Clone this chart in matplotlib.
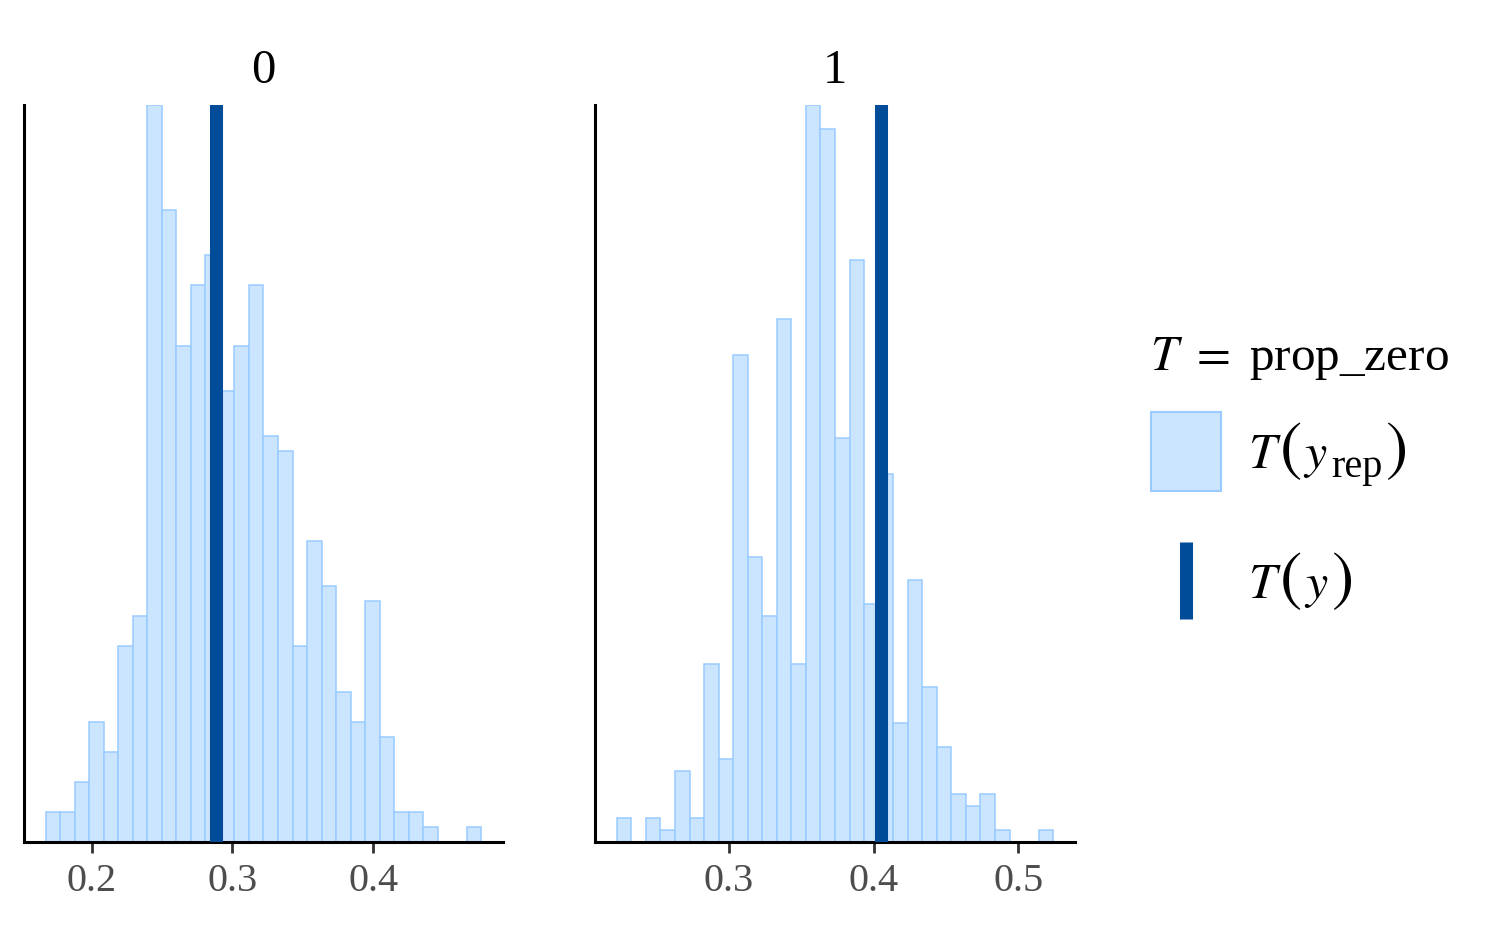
import numpy as np
import matplotlib
matplotlib.use("Agg")
import matplotlib.pyplot as plt
from matplotlib.patches import Rectangle
from matplotlib.lines import Line2D

plt.rcParams['font.family'] = ['Liberation Serif', 'DejaVu Serif']
plt.rcParams['mathtext.fontset'] = 'stix'

# facet labels
facets = ["0", "1"]

# histogram bin extents (30 bins) and counts per facet
bin_lo = [0.1675, 0.2226]
bin_hi = [0.4765, 0.5241]
counts_0 = [2, 2, 4, 8, 6, 13, 15, 49, 42, 33, 37, 39, 30, 33, 37,
            27, 26, 13, 20, 17, 10, 8, 16, 7, 2, 2, 1, 0, 0, 1]
counts_1 = [2, 0, 2, 1, 6, 2, 15, 7, 41, 24, 19, 44, 15, 62, 60,
            34, 49, 20, 31, 10, 22, 13, 8, 4, 3, 4, 1, 0, 0, 1]
counts = [counts_0, counts_1]

# observed statistic T(y) per facet
t_obs = [0.2886, 0.4051]

xticks = [[0.2, 0.3, 0.4], [0.3, 0.4, 0.5]]

LIGHT = "#cce5ff"
LIGHT_HI = "#99cbff"
DARK_HI = "#004c99"

W, H = 1500, 927
fig = plt.figure(figsize=(15, 9.27), dpi=100)

def px_axes(x0, y0, x1, y1):
    return fig.add_axes([x0 / W, 1 - y1 / H, (x1 - x0) / W, (y1 - y0) / H])

def ftext(x, y, s, size, **kw):
    return fig.text(x / W, 1 - y / H, s, fontsize=size, ha="left",
                    va="baseline", **kw)

panels = [(24, 105, 503, 842), (595, 105, 1075, 842)]

for i, box in enumerate(panels):
    ax = px_axes(*box)
    edges = np.linspace(bin_lo[i], bin_hi[i], len(counts[i]) + 1)
    ax.bar(edges[:-1], counts[i], width=np.diff(edges), align="edge",
           color=LIGHT, edgecolor=LIGHT_HI, linewidth=1.1, zorder=2)
    ax.axvline(t_obs[i], color=DARK_HI, linewidth=9.4, zorder=3)
    span = bin_hi[i] - bin_lo[i]
    ax.set_xlim(bin_lo[i] - 0.05 * span, bin_hi[i] + 0.05 * span)
    ax.set_ylim(0, max(counts[i]))
    for s in ["top", "right"]:
        ax.spines[s].set_visible(False)
    for s in ["left", "bottom"]:
        ax.spines[s].set_linewidth(2.2)
        ax.spines[s].set_color("black")
    ax.set_yticks([])
    ax.set_xticks(xticks[i])
    ax.set_xticklabels([f"{v:.1f}" for v in xticks[i]])
    ax.tick_params(axis="x", length=8, width=2, color="#333333",
                   labelsize=29, labelcolor="#4d4d4d", pad=7)
    ax.set_title(facets[i], fontsize=35, pad=16)

# legend
ftext(1150, 370, r"$T\ =\ $prop_zero", 35.5)
fig.add_artist(Rectangle((1151 / W, 1 - 491 / H), 70 / W, 79 / H,
                         transform=fig.transFigure, facecolor=LIGHT,
                         edgecolor=LIGHT_HI, linewidth=1.5))
fig.add_artist(Line2D([1185.5 / W, 1185.5 / W], [1 - 542 / H, 1 - 619 / H],
                      transform=fig.transFigure, color=DARK_HI,
                      linewidth=9.4, solid_capstyle="butt"))

PAREN = dict(family="STIXGeneral")
# T(y_rep)
ftext(1248, 468, r"$T$", 36)
ftext(1280, 468, "(", 48, **PAREN)
ftext(1303, 468, r"$y$", 36)
ftext(1331, 477, "rep", 29)
ftext(1385, 468, ")", 48, **PAREN)
# T(y)
ftext(1248, 598, r"$T$", 36)
ftext(1280, 598, "(", 48, **PAREN)
ftext(1304, 598, r"$y$", 36)
ftext(1331, 598, ")", 48, **PAREN)

fig.savefig("out.png", dpi=100)
